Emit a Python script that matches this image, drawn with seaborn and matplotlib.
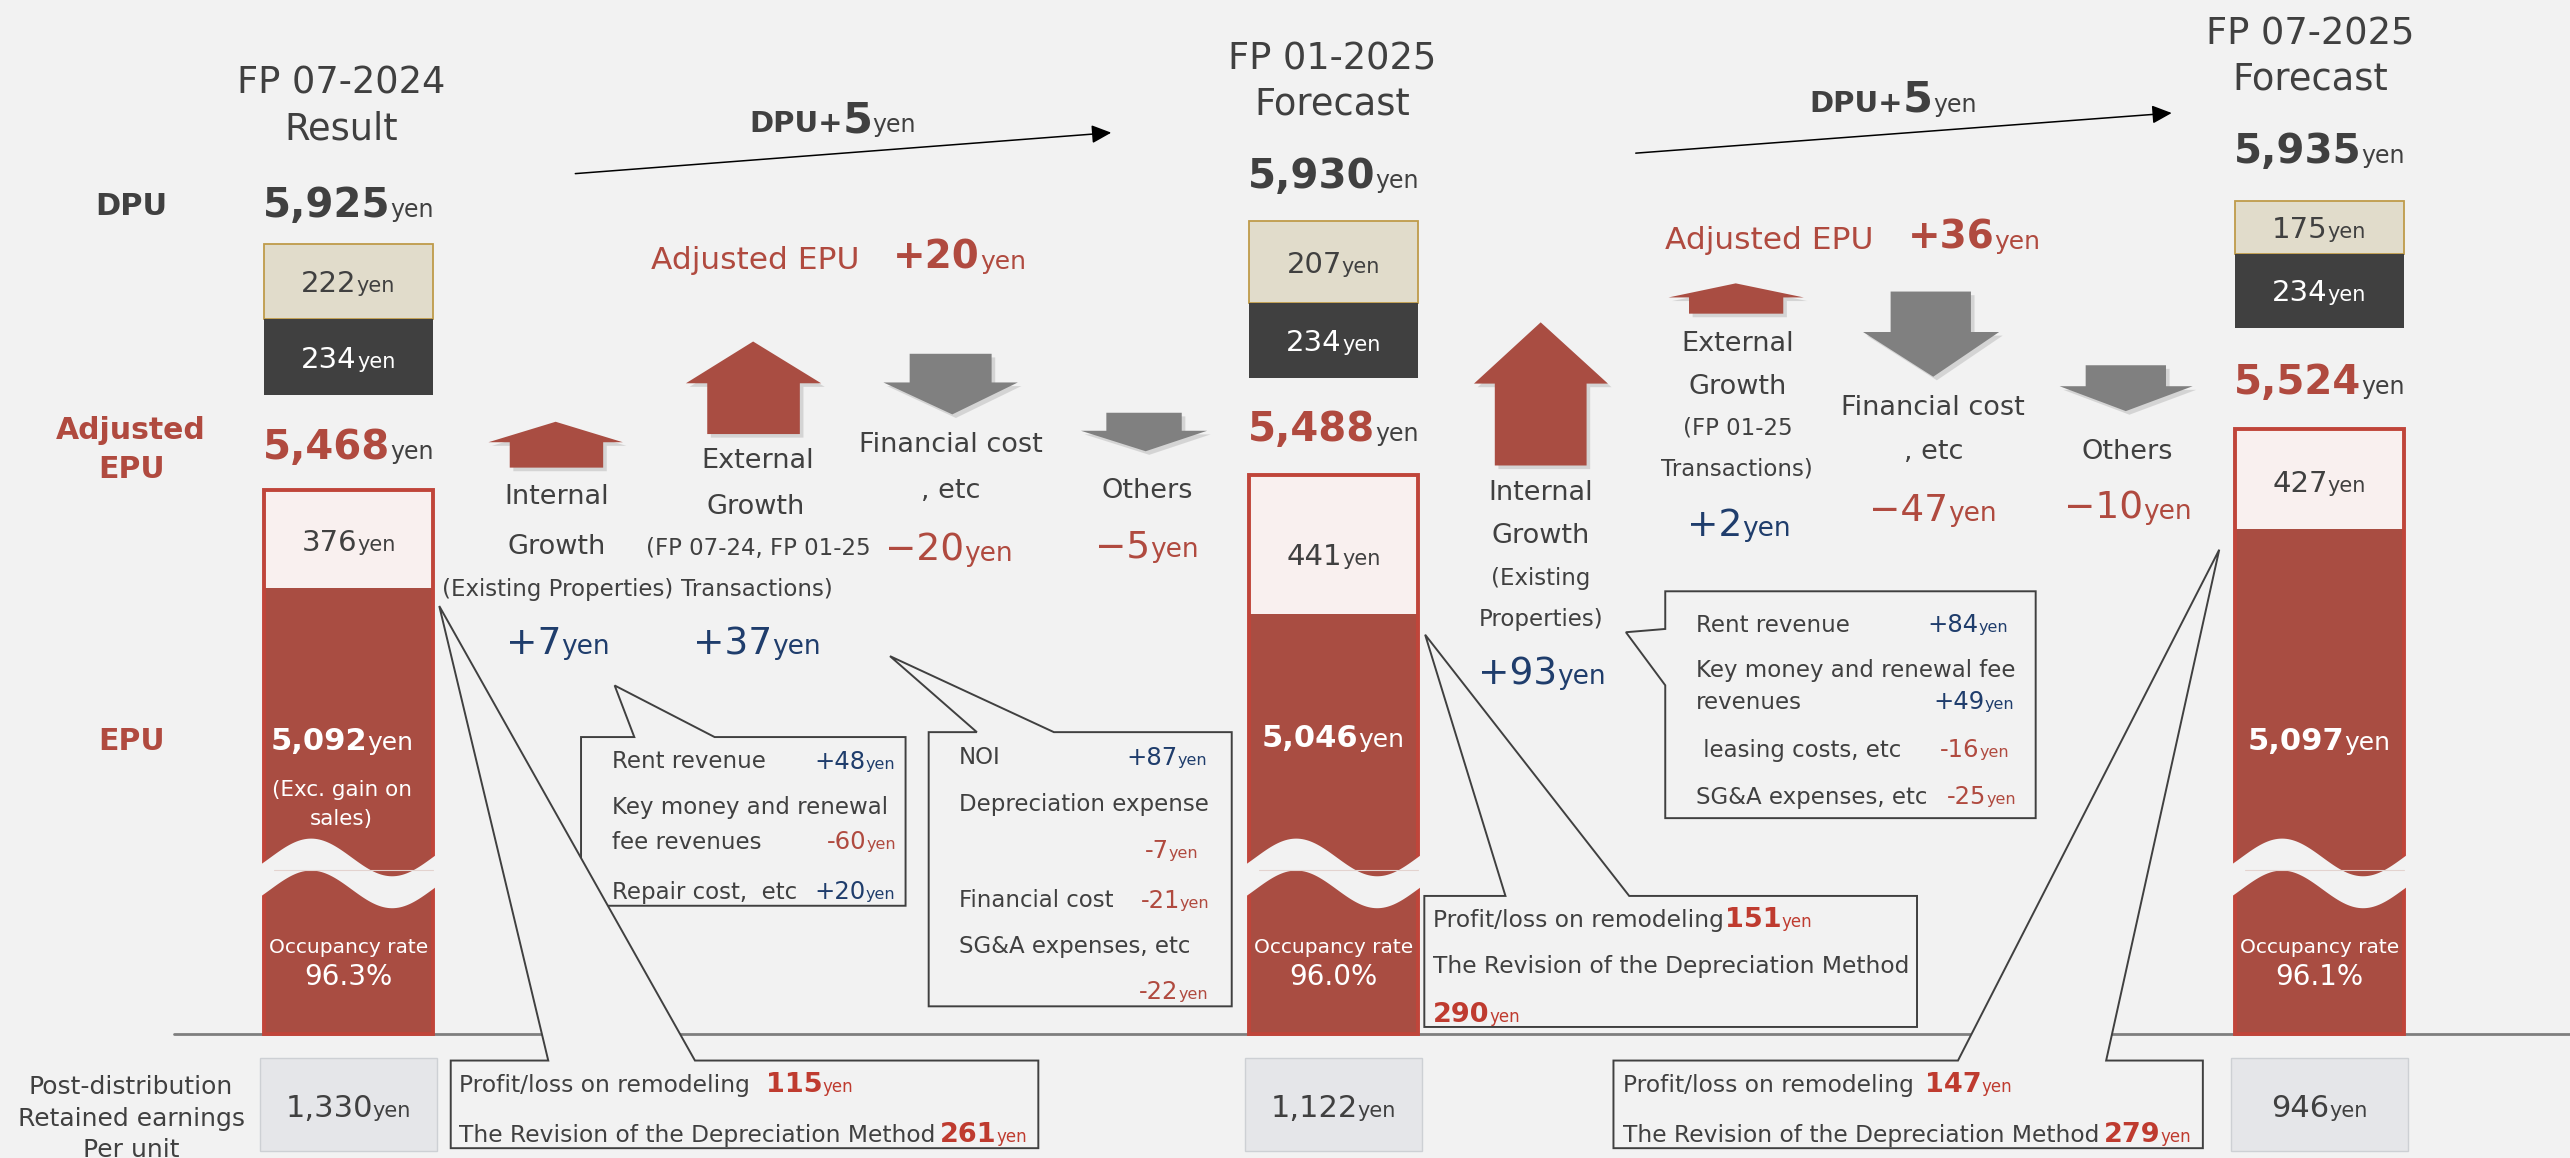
import numpy as np
import matplotlib
matplotlib.use("Agg")
import matplotlib.pyplot as plt
from matplotlib.patches import Polygon, Rectangle
import seaborn as sns

# ---------------- values ----------------
periods = ['FP 07-2024', 'FP 01-2025', 'FP 07-2025']
period_kind = ['Result', 'Forecast', 'Forecast']
dpu = [5925, 5930, 5935]
dpu_beige = [222, 207, 175]
dpu_dark = [234, 234, 234]
adj_epu = [5468, 5488, 5524]
adj_pink = [376, 441, 427]
epu = [5092, 5046, 5097]
occupancy = [96.3, 96.0, 96.1]
retained = [1330, 1122, 946]

dpu_step = [5, 5]
adj_step = [20, 36]

drivers_1 = [['Internal', 'Growth'], ['External', 'Growth'], ['Financial cost', ', etc'], ['Others']]
notes_1 = [['(Existing Properties)'], ['(FP 07-24, FP 01-25', 'Transactions)'], [], []]
change_1 = [7, 37, -20, -5]
drivers_2 = [['Internal', 'Growth'], ['External', 'Growth'], ['Financial cost', ', etc'], ['Others']]
notes_2 = [['(Existing', 'Properties)'], ['(FP 01-25', 'Transactions)'], [], []]
change_2 = [93, 2, -47, -10]

detail_1_labels = [['Rent revenue'], ['Key money and renewal', 'fee revenues'], ['Repair cost,  etc']]
detail_1_values = [48, -60, 20]
detail_2_labels = [['NOI'], ['Depreciation expense'], ['Financial cost'], ['SG&A expenses, etc']]
detail_2_values = [87, -7, -21, -22]
detail_3_labels = [['Rent revenue'], ['Key money and renewal fee', 'revenues'],
                   [' leasing costs, etc'], ['SG&A expenses, etc']]
detail_3_values = [84, 49, -16, -25]

remodel_gain = [115, 151, 147]
depr_revision = [261, 290, 279]

# ---------------- colours ----------------
BG = '#f2f2f2'
DARK = '#404040'
RED_FILL = '#a94d42'
RED_EDGE = '#c0453a'
RED_T = '#b04a3f'
RED_NUM = '#bf3b2f'
BLUE = '#1f3d6c'
GREY_ARROW = '#808080'
PINK = '#f9f0ef'
BEIGE = '#e1dccb'
BEIGE_EDGE = '#bf9b4a'
RET_FACE = '#e5e6e9'
RET_EDGE = '#cdd0d4'

# ---------------- layout (slide coordinates) ----------------
W, H = 1568, 707
PX = W / 2570
PT = 100 / 72 * PX

col_x = [212.5, 813.5, 1415.0]
title_x = [208, 813, 1409.5]
inner_dx = [-4, 0, 0]
BAR_W = 103
title_y = [(49, 77), (34, 61.5), (19, 46.5)]
dpu_y = [123.5, 106, 90.5]
beige_y = [(149, 195), (135, 185), (123, 155)]
dark_end = [241, 231, 200]
adj_y = [271.5, 260, 231.5]
frame_top = [299, 290, 262]
pink_end = [359, 375, 323]
pink_txt = [330, 338.5, 294]
epu_txt = [451, 449, 451]
BASE_Y = 631.5

drv_xy = [
    [[(339.5, 302), (339.5, 332)], [(462, 280), (461, 307.5)], [(580, 270), (580, 298)], [(700, 298)]],
    [[(940, 299), (940, 325.7)], [(1060, 208), (1060, 234.7)], [(1179.5, 247.5), (1180, 274)], [(1298, 274)]],
]
note_xy = [
    [[(340, 358.5)], [(462.5, 333.5), (461.5, 358.5)], [], []],
    [[(940, 352), (940, 377)], [(1060, 260), (1060, 285)], [], []],
]
chg_xy = [
    [(340.5, 391), (462, 391), (579, 334), (699.5, 332)],
    [(940.5, 409.5), (1061, 319), (1179.5, 309.7), (1298.5, 308.5)],
]
# tip x, tip y, head y, head left, head right, shaft left, shaft right, end y
arrow_geo = [
    [(339, 257.5, 270, 298, 380, 311, 368, 285.5),
     (459.5, 208.5, 234, 418.5, 501, 431.5, 488, 265),
     (581, 253, 233.5, 539, 621, 555, 605, 216),
     (699, 275.5, 263, 659.5, 736.5, 675, 721, 252)],
    [(940, 196.8, 234.2, 899.3, 981, 912, 968, 284.2),
     (1059, 173, 181.6, 1018, 1100.5, 1030.5, 1088, 191.5),
     (1179.5, 230, 202.7, 1136.7, 1219.7, 1153.5, 1202.5, 178),
     (1297, 251, 235.8, 1256.6, 1337.8, 1272.5, 1321.5, 223)],
]
dpu_arrow = [((351, 106), (678, 81)), ((998, 93.5), (1325, 69))]
dpu_txt = [(457, 80.7), (1104, 68.2)]
adj_txt = [(397, 545, 164), (1016, 1164, 152)]

callouts = [
    [(354.5, 450), (387, 450), (375, 418.5), (436, 450), (552.5, 450), (552.5, 553), (354.5, 553)],
    [(566.6, 447), (596, 447), (543, 400.6), (643, 447), (751.5, 447), (751.5, 614.4), (566.6, 614.4)],
    [(1016, 361), (1242, 361), (1242, 499.5), (1016, 499.5), (1016, 418.4), (992, 386), (1016, 384)],
]
remodel_boxes = [
    [(275, 647.5), (334.5, 647.5), (268, 370), (424, 647.5), (633.5, 647.5), (633.5, 701), (275, 701)],
    [(869, 547), (918.5, 547), (869.5, 387.5), (994, 547), (1169.6, 547), (1169.6, 627), (869, 627)],
    [(984.4, 647.5), (1194.6, 647.5), (1354, 335.6), (1285, 647.5), (1344, 647.5), (1344, 701), (984.4, 701)],
]
detail_layout = [
    (373.5, [546, 547, 546], [[464], [492, 513], [543.5]], [464, 513, 543.5]),
    (585, [736.5, 731, 738, 737], [[461.6], [490], [548.7], [577]], [461.6, 518.7, 548.7, 604.8]),
    (1034.6, [1225, 1229, 1226, 1230], [[380.7], [408, 427.5], [457], [485.5]], [380.7, 427.5, 457, 485.5]),
]

# ---------------- figure ----------------
sns.set_theme(style="white", rc={"figure.facecolor": BG, "axes.facecolor": BG})
plt.rcParams['font.family'] = ['DejaVu Sans']

fig = plt.figure(figsize=(25.7, 11.58), dpi=100)
ax = fig.add_axes([0, 0, 1, 1])
ax.set_xlim(0, W)
ax.set_ylim(H, 0)
ax.axis('off')
renderer = fig.canvas.get_renderer()


def rich(x, yc, parts, ha='center', base=None, z=6):
    """parts: (text, size, colour, bold) tuples or numbers (= gap)."""
    if base is None:
        base = yc + 0.364 * parts[0][1] * PT
    items, total = [], 0.0
    for p in parts:
        if isinstance(p, (int, float)):
            items.append((None, p))
            total += p
            continue
        s, size, color, bold = p
        t = ax.text(0, base, s, fontsize=size, color=color,
                    fontweight='bold' if bold else 'normal',
                    ha='left', va='baseline', zorder=z)
        w = t.get_window_extent(renderer).width * PX
        items.append((t, w))
        total += w
    start = {'center': x - total / 2, 'left': x, 'right': x - total}[ha]
    for t, w in items:
        if t is not None:
            t.set_x(start)
        start += w


def signed(v, minus='−'):
    return f'+{v}' if v > 0 else f'{minus}{-v}'


# base line
ax.plot([106, W], [BASE_Y, BASE_Y], color='#7f7f7f', lw=2, zorder=1)

# left-hand row labels
rich(80, 124.5, [('DPU', 22, DARK, True)])
rich(80, 261.5, [('Adjusted', 21.5, RED_T, True)])
rich(80, 285, [('EPU', 21.5, RED_T, True)])
rich(80, 451, [('EPU', 21.5, RED_T, True)])
rich(80, 662.5, [('Post-distribution', 18, DARK, False)])
rich(80, 682, [('Retained earnings', 18, DARK, False)])
rich(80, 701, [('Per unit', 18, DARK, False)])

# ---------------- period columns ----------------
for i, cx in enumerate(col_x):
    rich(title_x[i], title_y[i][0], [(periods[i], 26.5, DARK, False)])
    rich(title_x[i], title_y[i][1], [(period_kind[i], 26.5, DARK, False)])
    rich(cx, dpu_y[i], [(f'{dpu[i]:,}', 29, DARK, True), ('yen', 17, DARK, False)])

    b0, b1 = beige_y[i]
    ax.bar(cx, b1 - b0, bottom=b0, width=BAR_W, color=BEIGE, edgecolor=BEIGE_EDGE, lw=1.3, zorder=3)
    ax.bar(cx, dark_end[i] - b1, bottom=b1, width=BAR_W, color=DARK, lw=0, zorder=3)
    rich(cx, (b0 + b1) / 2, [(f'{dpu_beige[i]}', 21, DARK, False), ('yen', 15, DARK, False)])
    rich(cx, (b1 + dark_end[i]) / 2, [(f'{dpu_dark[i]}', 21, 'white', False), ('yen', 15, 'white', False)])

    rich(cx, adj_y[i], [(f'{adj_epu[i]:,}', 29, RED_T, True), ('yen', 17, DARK, False)])

    ax.bar(cx, pink_end[i] - frame_top[i], bottom=frame_top[i], width=BAR_W, color=PINK, lw=0, zorder=3)
    ax.bar(cx, BASE_Y - pink_end[i], bottom=pink_end[i], width=BAR_W, color=RED_FILL, lw=0, zorder=3)
    ax.add_patch(Rectangle((cx - BAR_W / 2, frame_top[i]), BAR_W, BASE_Y - frame_top[i],
                           fill=False, edgecolor=RED_EDGE, lw=2.8, zorder=3.5))
    rich(cx, pink_txt[i], [(f'{adj_pink[i]}', 21, DARK, False), ('yen', 15, DARK, False)])
    rich(cx + inner_dx[i], epu_txt[i], [(f'{epu[i]:,}', 22, 'white', True), ('yen', 18, 'white', False)])
    if i == 0:
        rich(cx + inner_dx[i], 481, [('(Exc. gain on', 15.5, 'white', False)])
        rich(cx + inner_dx[i], 499, [('sales)', 15.5, 'white', False)])

    # wavy break in the column
    t = np.linspace(-0.06, 1.06, 90)
    upper = 523.5 + 11.5 * np.sin(2 * np.pi * (t - 0.52) / 0.96)
    xs = cx - BAR_W / 2 + t * BAR_W
    ax.add_patch(Polygon(np.column_stack([np.r_[xs, xs[::-1]], np.r_[upper, (upper + 19.5)[::-1]]]),
                         closed=True, facecolor=BG, edgecolor='none', zorder=4))
    ax.plot([cx - BAR_W / 2 + 6, cx + BAR_W / 2], [531, 531], color='#e3d3cf', lw=0.8, zorder=4.2)

    rich(cx, 577.5, [('Occupancy rate', 14.5, 'white', False)])
    rich(cx, 595.5, [(f'{occupancy[i]:.1f}%', 20, 'white', False)])

    ax.bar(cx, 57, bottom=646, width=108, color=RET_FACE, edgecolor=RET_EDGE, lw=1, zorder=3)
    rich(cx, 675, [(f'{retained[i]:,}', 22, DARK, False), ('yen', 15, DARK, False)])

# ---------------- bridges between periods ----------------
for s in range(2):
    (x0, y0), (x1, y1) = dpu_arrow[s]
    ax.annotate('', xy=(x1, y1), xytext=(x0, y0),
                arrowprops=dict(arrowstyle='-|>,head_length=0.6,head_width=0.28',
                                mutation_scale=20, lw=1.1, color='black',
                                shrinkA=0, shrinkB=0), zorder=5)
    tx, tb = dpu_txt[s]
    rich(tx, None, [('DPU+', 21, DARK, True), (f'{dpu_step[s]}', 31, DARK, True),
                    ('yen', 17, DARK, False)], ha='left', base=tb)
    lx, nx, tb = adj_txt[s]
    rich(lx, None, [('Adjusted EPU', 22.5, RED_T, False)], ha='left', base=tb)
    rich(nx, None, [(f'+{adj_step[s]}', 28, RED_T, True), ('yen', 18, RED_T, False)],
         ha='left', base=tb)

    drivers = drivers_1 if s == 0 else drivers_2
    notes = notes_1 if s == 0 else notes_2
    change = change_1 if s == 0 else change_2
    for k in range(4):
        tx_, ty, hy, hl, hr, sl, sr, ey = arrow_geo[s][k]
        pts = np.array([(tx_, ty), (hr, hy), (sr, hy), (sr, ey), (sl, ey), (sl, hy), (hl, hy)])
        col = RED_FILL if change[k] > 0 else GREY_ARROW
        ax.add_patch(Polygon(pts + 2.2, closed=True, facecolor='#bdbdbd', alpha=0.55,
                             edgecolor='none', zorder=2.4))
        ax.add_patch(Polygon(pts, closed=True, facecolor=col, edgecolor='none', zorder=2.5))
        for line, (lx_, ly) in zip(drivers[k], drv_xy[s][k]):
            rich(lx_, ly, [(line, 19.5, DARK, False)])
        for line, (lx_, ly) in zip(notes[k], note_xy[s][k]):
            rich(lx_, ly, [(line, 16.5, DARK, False)])
        c = BLUE if change[k] > 0 else RED_T
        cx_, cy_ = chg_xy[s][k]
        rich(cx_, cy_, [(signed(change[k]), 27, c, False), ('yen', 19, c, False)])

# ---------------- call-out boxes ----------------
for poly in callouts + remodel_boxes:
    ax.add_patch(Polygon(poly, closed=True, facecolor=BG, edgecolor=DARK, lw=1.4, zorder=2))

details = [(detail_1_labels, detail_1_values), (detail_2_labels, detail_2_values),
           (detail_3_labels, detail_3_values)]
for (labels, values), (lx, vxs, lys, vys) in zip(details, detail_layout):
    for lines, ys, v, vx, vy in zip(labels, lys, values, vxs, vys):
        for line, y in zip(lines, ys):
            rich(lx, y, [(line, 16.5, DARK, False)], ha='left')
        c = BLUE if v > 0 else RED_T
        rich(vx, vy, [(signed(v, '-'), 17.5, c, False), ('yen', 11.5, c, False)], ha='right')

# remodeling / depreciation-method boxes
RM = 16.8
rich(280, 661.7, [('Profit/loss on remodeling', RM, DARK, False), 10,
                  (f'{remodel_gain[0]}', 19.5, RED_NUM, True), ('yen', 12, RED_NUM, False)], ha='left')
rich(280, 691.8, [('The Revision of the Depreciation Method', RM, DARK, False), 3,
                  (f'{depr_revision[0]}', 19.5, RED_NUM, True), ('yen', 12, RED_NUM, False)], ha='left')
rich(874, 561, [('Profit/loss on remodeling', RM, DARK, False), 1,
                (f'{remodel_gain[1]}', 19.5, RED_NUM, True), ('yen', 12, RED_NUM, False)], ha='left')
rich(874, 589, [('The Revision of the Depreciation Method', RM, DARK, False)], ha='left')
rich(874, 618, [(f'{depr_revision[1]}', 19.5, RED_NUM, True), ('yen', 12, RED_NUM, False)], ha='left')
rich(990, 661.7, [('Profit/loss on remodeling', RM, DARK, False), 7,
                  (f'{remodel_gain[2]}', 19.5, RED_NUM, True), ('yen', 12, RED_NUM, False)], ha='left')
rich(990, 691.8, [('The Revision of the Depreciation Method', RM, DARK, False), 3,
                  (f'{depr_revision[2]}', 19.5, RED_NUM, True), ('yen', 12, RED_NUM, False)], ha='left')

ax.set_xlim(0, W)
ax.set_ylim(H, 0)
fig.savefig('out.png', dpi=100, facecolor=BG)
